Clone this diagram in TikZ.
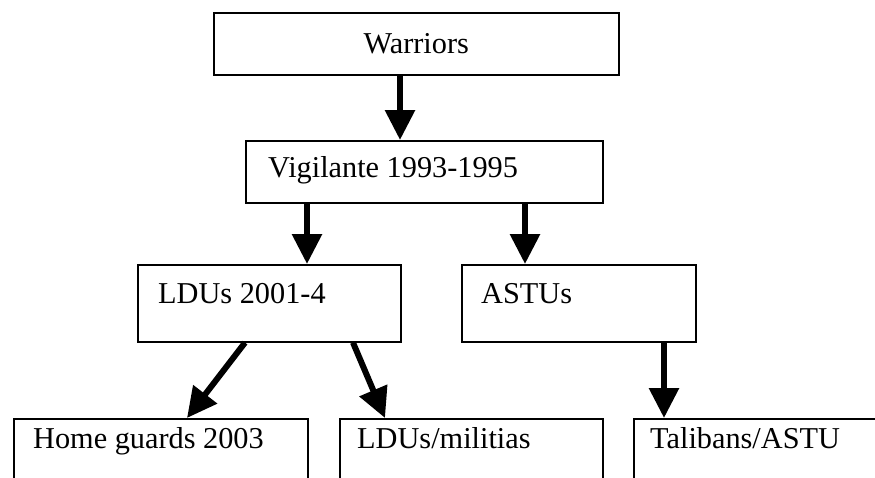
\documentclass[tikz,border=0pt]{standalone}
\usepackage{fontspec}
\setmainfont{Liberation Serif}
\usetikzlibrary{arrows.meta}
\begin{document}
\begin{tikzpicture}[x=1pt,y=-1pt,
  box/.style={draw=black, line width=1.6pt, rectangle, inner sep=0pt, anchor=north west, font=\fontsize{30.3}{36}\selectfont},
  lbl/.style={anchor=base west, inner sep=0pt, font=\fontsize{30.3}{36}\selectfont},
  arr/.style={draw=black, line width=6pt, -{Triangle[width=29pt,length=30pt]}}]
\useasboundingbox (0,0) rectangle (875,477);
\fill[white] (0,0) rectangle (875,477);
\clip (0,0) rectangle (875,477);
% boxes
\node[box, minimum width=405pt, minimum height=62pt] (warriors) at (213,12) {Warriors};
\node[box, minimum width=357pt, minimum height=62pt] (vig) at (245,140) {};
\node[box, minimum width=263pt, minimum height=77pt] (ldu) at (137,264) {};
\node[box, minimum width=234pt, minimum height=77pt] (astu) at (461,264) {};
\node[box, minimum width=294pt, minimum height=80pt] (home) at (13,418) {};
\node[box, minimum width=263pt, minimum height=80pt] (mil) at (339,418) {};
\node[box, minimum width=260pt, minimum height=80pt] (tal) at (633,418) {};
% texts
\node[lbl] (tvig) at (268,177) {Vigilante 1993-1995};
\node[lbl] (tldu) at (158,303) {LDUs 2001-4};
\node[lbl] (tastu) at (481,303) {ASTUs};
\node[lbl] (thome) at (33,448) {Home guards 2003};
\node[lbl] (tmil) at (357,448) {LDUs/militias};
\node[lbl] (ttal) at (650,448) {Talibans/ASTU};
% columns for connectors
\coordinate (xa) at (400,0);
\coordinate (xb) at (307,0);
\coordinate (xc) at (525,0);
\coordinate (xd) at (245,0);
\coordinate (xe) at (187,0);
\coordinate (xf) at (353,0);
\coordinate (xg) at (385,0);
\coordinate (xh) at (664,0);
% connectors
\draw[arr] (warriors.south -| xa) -- (vig.north -| xa);
\draw[arr] (vig.south -| xb) -- (ldu.north -| xb);
\draw[arr] (vig.south -| xc) -- (astu.north -| xc);
\draw[arr] (ldu.south -| xd) -- (home.north -| xe);
\draw[arr] (ldu.south -| xf) -- (mil.north -| xg);
\draw[arr] (astu.south -| xh) -- (tal.north -| xh);
\end{tikzpicture}
\end{document}
